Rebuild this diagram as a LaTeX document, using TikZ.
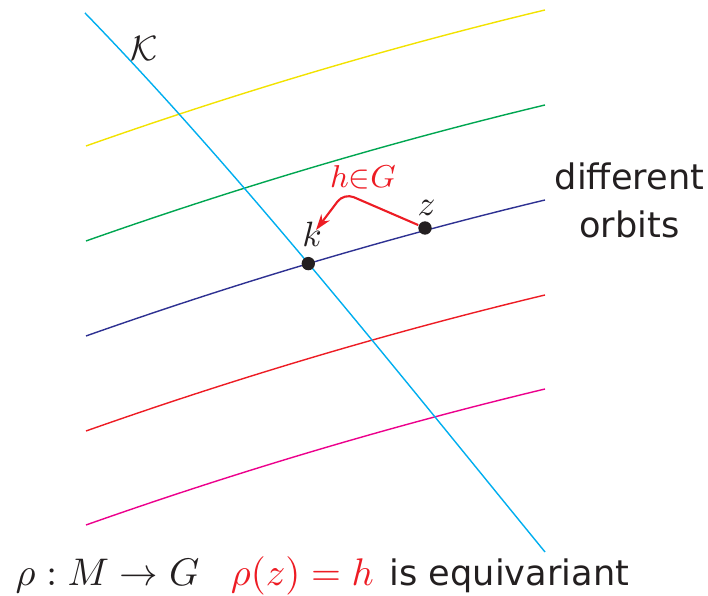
\documentclass[tikz,border=0pt]{standalone}
\usepackage{fontspec}
\setsansfont{DejaVu Sans}
\usetikzlibrary{intersections,arrows.meta}

\begin{document}
\begin{tikzpicture}[
    dot/.style={circle, fill=textColour, inner sep=0pt, minimum size=3.8pt},
    pointLabel/.style={text=textColour, font=\fontsize{10}{12}\selectfont, anchor=base},
    sideText/.style={text=textColour, font=\sffamily, anchor=base}
]
    % Define colours
    \definecolor{textColour}{HTML}{231F20}
    \definecolor{sliceColour}{HTML}{00AEEF}
    \definecolor{orbitYellow}{HTML}{F2E200}
    \definecolor{orbitGreen}{HTML}{00A651}
    \definecolor{orbitBlue}{HTML}{2E3192}
    \definecolor{orbitRed}{HTML}{ED1C24}
    \definecolor{orbitMagenta}{HTML}{EC008C}
    \definecolor{labelRed}{HTML}{ED1C24}

    % Fix picture size
    \useasboundingbox (0,0) rectangle (7.08,5.96);

    % Draw orbits
    \foreach \c/\y [count=\i] in {orbitYellow/4.50, orbitGreen/3.55, orbitBlue/2.60, orbitRed/1.65, orbitMagenta/0.71}
        \draw[\c, thin, name path global=orbit\i] (0.86,\y) .. controls (2.39,\y+0.54) and (3.92,\y+0.993) .. (5.45,\y+1.36);

    % Draw slice K
    \draw[sliceColour, thin, name path=slice] (0.85,5.83) .. controls (2.383,4.249) and (3.917,2.316) .. (5.45,0.44);
    \node[text=textColour, anchor=base] (sliceLabel) at (1.445,5.35) {$\mathcal{K}$};

    % Points k and z
    \path[name intersections={of=slice and orbit3, by=k}];
    \coordinate (z) at (4.25,3.68);
    \node[dot] (kDot) at (k) {};
    \node[dot] (zDot) at (z) {};
    \node[pointLabel] (kLabel) at (3.12,3.49) {$k$};
    \node[pointLabel] (zLabel) at (4.265,3.80) {$z$};

    % Draw group element arrow
    \coordinate (hBend) at (3.44,4.03);
    \coordinate (hTip) at (3.16,3.66);
    \draw[labelRed, semithick, rounded corners=3pt, -{Stealth[length=4.5pt,width=3pt]}] (zDot) -- (hBend) -- (hTip);
    \node[text=labelRed, anchor=base, font=\fontsize{9}{11}\selectfont] (hLabel) at (3.63,4.08) {$h{\in}G$};

    % Side text
    \node[sideText] (diffText) at (6.295,4.06) {different};
    \node[sideText] (orbitText) at (6.295,3.58) {orbits};

    % Bottom line
    \node[text=textColour, anchor=base west, inner sep=0pt] (caption) at (0.15,0.10)
        {{\fontsize{11}{13}\selectfont$\rho : M \to G$\hspace{9pt}\color{labelRed}$\rho(z) = h$}\hspace{4.5pt}\sffamily is equivariant};

\end{tikzpicture}
\end{document}
